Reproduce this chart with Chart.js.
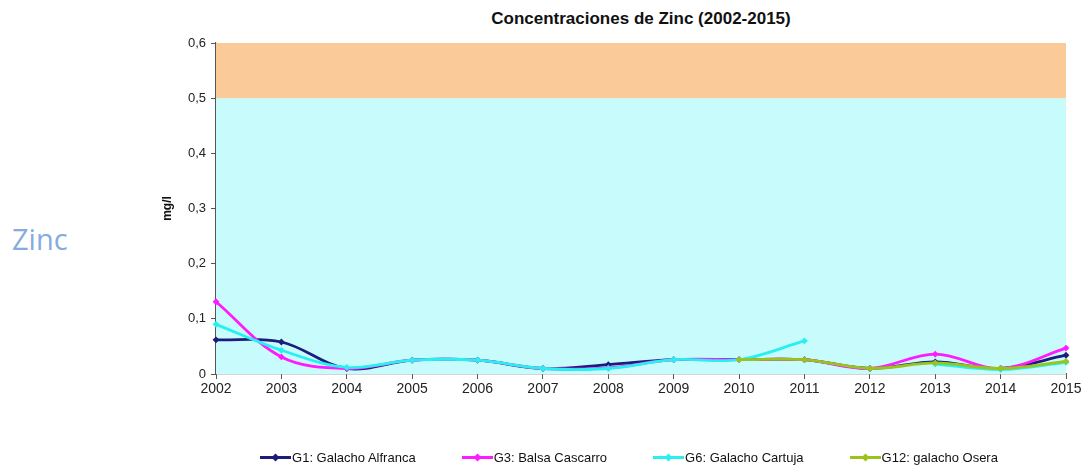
<!DOCTYPE html>
<html lang="es">
<head>
    <meta charset="UTF-8">
    <title>Concentraciones de Zinc (2002-2015)</title>
    <script src="https://cdn.jsdelivr.net/npm/chart.js"></script>
    <style>
        body { margin: 0; background: #fff; font-family: "Liberation Sans", Arial, sans-serif; }
        #page { position: relative; width: 1087px; height: 468px; overflow: hidden; }
        #chartBox { position: absolute; left: 0; top: 0; width: 1087px; height: 468px; }
        #side { position: absolute; left: 12px; top: 219px; font-family: "Open Sans", sans-serif; font-size: 29px; line-height: 40px; color: #86abde; }
        #title { position: absolute; left: 216px; width: 850px; top: 9px; text-align: center; font-weight: bold; font-size: 17px; color: #111; }
        #legend { position: absolute; left: 204px; width: 850px; top: 450px; display: flex; justify-content: center; gap: 46px; font-size: 13px; color: #111; }
        #legend .item { display: flex; align-items: center; }
        #legend svg { margin-right: 1px; }
    </style>
</head>
<body>
<div id="page">
    <div id="side">Zinc</div>
    <div id="title">Concentraciones de Zinc (2002-2015)</div>
    <div id="chartBox"><canvas id="zincChart" width="1087" height="468"></canvas></div>
    <div id="legend"></div>
</div>

<script>
    // Years and measured zinc (mg/l) per station
    const years = ['2002', '2003', '2004', '2005', '2006', '2007', '2008', '2009', '2010', '2011', '2012', '2013', '2014', '2015'];
    const g1Alfranca = [0.062, 0.058, 0.010, 0.025, 0.025, 0.010, 0.017, 0.026, 0.026, 0.026, 0.010, 0.022, 0.010, 0.034];
    const g3Cascarro = [0.131, 0.031, 0.010, 0.025, 0.025, 0.010, 0.011, 0.026, 0.026, 0.026, 0.010, 0.036, 0.010, 0.047];
    const g6Cartuja = [0.090, 0.043, 0.012, 0.025, 0.025, 0.010, 0.010, 0.026, 0.026, 0.060, null, 0.018, 0.008, 0.021];
    const g12Osera = [null, null, null, null, null, null, null, null, 0.026, 0.026, 0.010, 0.020, 0.010, 0.023];

    const seriesNames = ['G1: Galacho Alfranca', 'G3: Balsa Cascarro', 'G6: Galacho Cartuja', 'G12: galacho Osera'];
    const seriesColors = ['#1c1c7c', '#ff1aff', '#28f0f0', '#9cc21c'];

    // Reference bands: limits and fill for each band
    const bandLimits = [0, 0.5, 0.6];
    const bandColors = ['rgb(200,251,251)', 'rgb(250,202,152)'];

    const bandsPlugin = {
        id: 'bands',
        beforeDatasetsDraw(chart) {
            const { ctx, chartArea, scales } = chart;
            ctx.save();
            for (let i = 0; i < bandColors.length; i++) {
                const yTop = scales.y.getPixelForValue(bandLimits[i + 1]);
                const yBot = scales.y.getPixelForValue(bandLimits[i]);
                ctx.fillStyle = bandColors[i];
                ctx.fillRect(chartArea.left, yTop, chartArea.right - chartArea.left, yBot - yTop);
            }
            ctx.restore();
        }
    };

    const allSeries = [g1Alfranca, g3Cascarro, g6Cartuja, g12Osera];
    const drawOrder = [3, 2, 1, 0];

    const datasets = allSeries.map((values, i) => ({
        label: seriesNames[i],
        data: values,
        borderColor: seriesColors[i],
        backgroundColor: seriesColors[i],
        borderWidth: 2.8,
        tension: 0.35,
        pointStyle: 'rectRot',
        pointRadius: 3.4,
        pointBorderWidth: 0,
        spanGaps: false,
        order: drawOrder[i]
    }));

    new Chart(document.getElementById('zincChart'), {
        type: 'line',
        data: { labels: years, datasets: datasets },
        options: {
            responsive: false,
            animation: false,
            layout: { padding: { left: 160, right: 21, top: 43, bottom: 0 } },
            plugins: {
                legend: { display: false },
                title: { display: false },
                tooltip: { enabled: false }
            },
            scales: {
                x: {
                    offset: false,
                    border: { color: '#555', width: 1.2 },
                    grid: { drawOnChartArea: false, drawTicks: true, tickLength: 5, color: '#555' },
                    ticks: { color: '#222', font: { size: 14, family: 'Liberation Sans' }, padding: 2, maxRotation: 0 },
                    afterFit(scale) { scale.height = 94; }
                },
                y: {
                    min: 0,
                    max: 0.6,
                    border: { color: '#555', width: 1.2 },
                    grid: { drawOnChartArea: false, drawTicks: true, tickLength: 5, color: '#555' },
                    ticks: {
                        stepSize: 0.1,
                        color: '#222',
                        padding: 5,
                        font: { size: 13, family: 'Liberation Sans' },
                        callback: v => v === 0 ? '0' : v.toFixed(1).replace('.', ',')
                    },
                    title: { display: true, text: 'mg/l', color: '#111', font: { size: 12, weight: 'bold', family: 'Liberation Sans' }, padding: 0 },
                    afterFit(scale) { scale.width = 56; }
                }
            }
        },
        plugins: [bandsPlugin]
    });

    // Legend: line swatch with diamond marker for each station
    const legendEl = document.getElementById('legend');
    seriesNames.forEach((name, i) => {
        const item = document.createElement('div');
        item.className = 'item';
        item.innerHTML =
            '<svg width="31" height="9"><line x1="0" y1="4.5" x2="31" y2="4.5" stroke="' + seriesColors[i] + '" stroke-width="3"/>' +
            '<polygon points="15.5,0.5 19.5,4.5 15.5,8.5 11.5,4.5" fill="' + seriesColors[i] + '"/></svg>' +
            '<span>' + name + '</span>';
        legendEl.appendChild(item);
    });
</script>
</body>
</html>
